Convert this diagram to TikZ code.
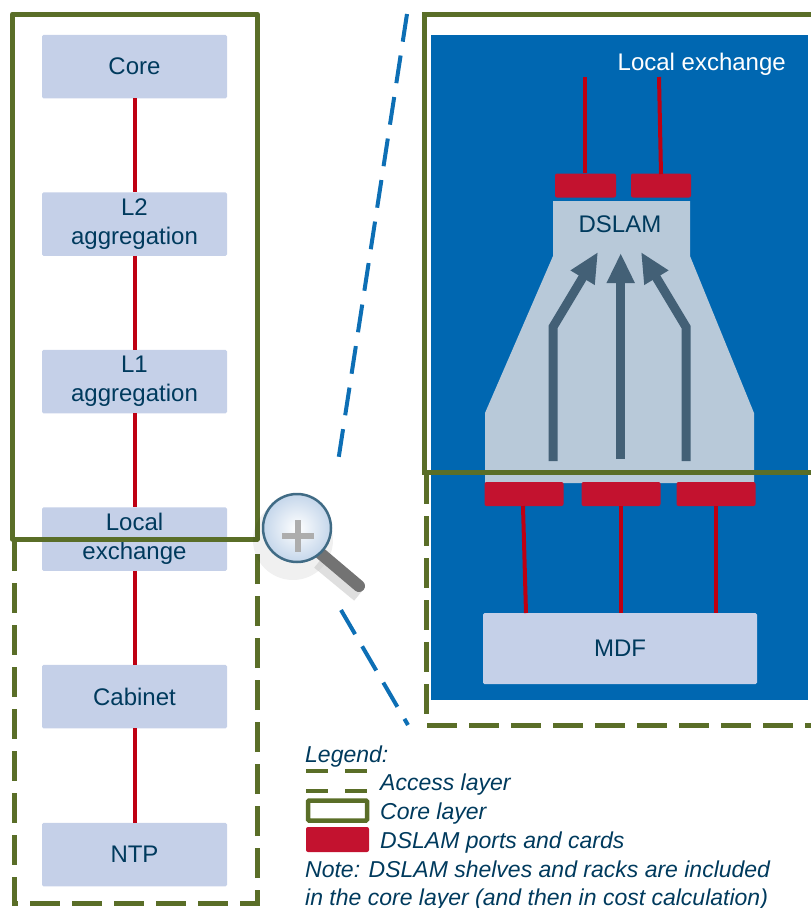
\documentclass[tikz,border=0pt]{standalone}
\usepackage{fontspec}
\setmainfont{Liberation Sans}
\usetikzlibrary{arrows.meta}
\definecolor{txt}{HTML}{003A5D}
\definecolor{boxc}{HTML}{C5D0E8}
\definecolor{dsl}{HTML}{B8C9D9}
\definecolor{arr}{HTML}{436076}
\definecolor{port}{HTML}{C3122F}
\definecolor{wire}{HTML}{BE0012}
\definecolor{grn}{HTML}{5A6E28}
\definecolor{blu}{HTML}{0067B1}
\tikzset{
  netbox/.style={fill=boxc,draw=none,rounded corners=1.5pt,minimum width=185pt,minimum height=63.5pt,inner sep=0pt,align=center,text=txt,font=\fontsize{24}{29}\selectfont},
  wirel/.style={draw=wire,line width=4pt},
  portbox/.style={fill=port,draw=none,rounded corners=2pt,inner sep=0pt},
  corel/.style={draw=grn,line width=5pt,line join=round},
  accessl/.style={draw=grn,line width=5pt,dash pattern=on 30pt off 12pt},
  zooml/.style={draw=blu!95!white,line width=4pt,dash pattern=on 28pt off 14pt},
  flow/.style={draw=arr,line width=9pt,-{Triangle[length=30pt,width=26pt]}},
  lgd/.style={anchor=base west,inner sep=0pt,text=txt,font=\fontsize{23}{28}\selectfont\itshape}
}
\begin{document}
\begin{tikzpicture}[x=1pt,y=-1pt]
\useasboundingbox (0,0) rectangle (811,908);
% left chain
\node[netbox] (core) at (134.5,66.5) {Core};
\node[netbox] (l2) at (134.5,224) {L2\\aggregation};
\node[netbox] (l1) at (134.5,381.5) {L1\\aggregation};
\node[netbox] (lex) at (134.5,539) {Local\\exchange};
\node[netbox] (cab) at (134.5,696.5) {Cabinet};
\node[netbox] (ntp) at (134.5,854.5) {NTP};
\draw[wirel] (core) -- (l2);
\draw[wirel] (l2) -- (l1);
\draw[wirel] (l1) -- (lex);
\draw[wirel] (lex) -- (cab);
\draw[wirel] (cab) -- (ntp);
% left layers
\draw[accessl] (14,541) -- (14,903) -- (257,903) -- (257,545);
\draw[corel] (12.5,14) rectangle (257,539);
% right panel
\fill[blu] (431,35) rectangle (808,700);
\node[anchor=base east,inner sep=0pt,text=white,font=\fontsize{24}{29}\selectfont] (lelabel) at (786,70) {Local exchange};
\fill[dsl] (553,201) -- (690,201) -- (690,256) -- (754,413) -- (754,483) -- (485,483) -- (485,413) -- (553,256) -- cycle;
\node[inner sep=0pt,text=txt,font=\fontsize{24}{29}\selectfont] (dslam) at (620,224) {DSLAM};
\node[portbox,minimum width=61pt,minimum height=24pt] (pt1) at (585.5,185.5) {};
\node[portbox,minimum width=60pt,minimum height=24pt] (pt2) at (661,185.5) {};
\node[portbox,minimum width=79pt,minimum height=24pt] (pb1) at (524,494) {};
\node[portbox,minimum width=79pt,minimum height=24pt] (pb2) at (621,494) {};
\node[portbox,minimum width=79pt,minimum height=24pt] (pb3) at (716,494) {};
\node[fill=boxc,rounded corners=1.5pt,minimum width=274pt,minimum height=71pt,inner sep=0pt,text=txt,font=\fontsize{24}{29}\selectfont] (mdf) at (620,648.5) {MDF};
\coordinate (t1) at (585,77);
\coordinate (t2) at (659,77);
\draw[wirel] (t1) -- (pt1.north -| t1);
\draw[wirel] (t2) -- (661,174);
\draw[wirel] (523,506) -- (526,613);
\draw[wirel] (621,506) -- (621,613);
\draw[wirel] (715.5,506) -- (715.5,613);
% flow arrows
\draw[flow] (553,461) -- (553,327) -- (598,252);
\draw[flow] (620.7,459) -- (620.7,253);
\draw[flow] (686,461) -- (686,327) -- (641,252);
% right layers
\draw[accessl] (426,474) -- (426,725) -- (811,725);
\draw[draw=grn,line width=5pt] (811,14) -- (424,14) -- (424,472) -- (811,472);
% zoom lines
\draw[zooml] (407,14) -- (338,462);
\draw[zooml] (341,610) -- (408,725);
% magnifier
\fill[black,opacity=.06] (293,540) circle (40);
\draw[line width=12pt,draw=black!25,opacity=.5] (318,563) -- (358,596);
\draw[line width=12pt,draw=black!55!white,line cap=round] (320,553) -- (359,586);
\shade[inner color=white,outer color=boxc!80!blu!60!white] (297,528) circle (34);
\draw[line width=2.5pt,draw=txt!75!white] (297,528) circle (34);
\fill[black!32] (294.5,520) rectangle (300.5,551.5);
\fill[black!32] (281.5,532.5) rectangle (313.5,538.5);
% legend
\node[lgd] (lg0) at (305,762) {Legend:};
\draw[draw=grn,line width=4pt,dash pattern=on 22pt off 17pt] (306,771) -- (369,771);
\draw[draw=grn,line width=4pt,dash pattern=on 22pt off 17pt] (306,791) -- (369,791);
\node[lgd] (lg1) at (380,790) {Access layer};
\draw[draw=grn,line width=4.5pt,rounded corners=1pt] (308,800.5) rectangle (367,820.5);
\node[lgd] (lg2) at (380,819) {Core layer};
\fill[port,rounded corners=2pt] (306,827) rectangle (369,852);
\node[lgd] (lg3) at (380,848) {DSLAM ports and cards};
\node[lgd] (lg4) at (305,877) {Note: DSLAM shelves and racks are included};
\node[lgd] (lg5) at (305,905) {in the core layer (and then in cost calculation)};
\end{tikzpicture}
\end{document}
